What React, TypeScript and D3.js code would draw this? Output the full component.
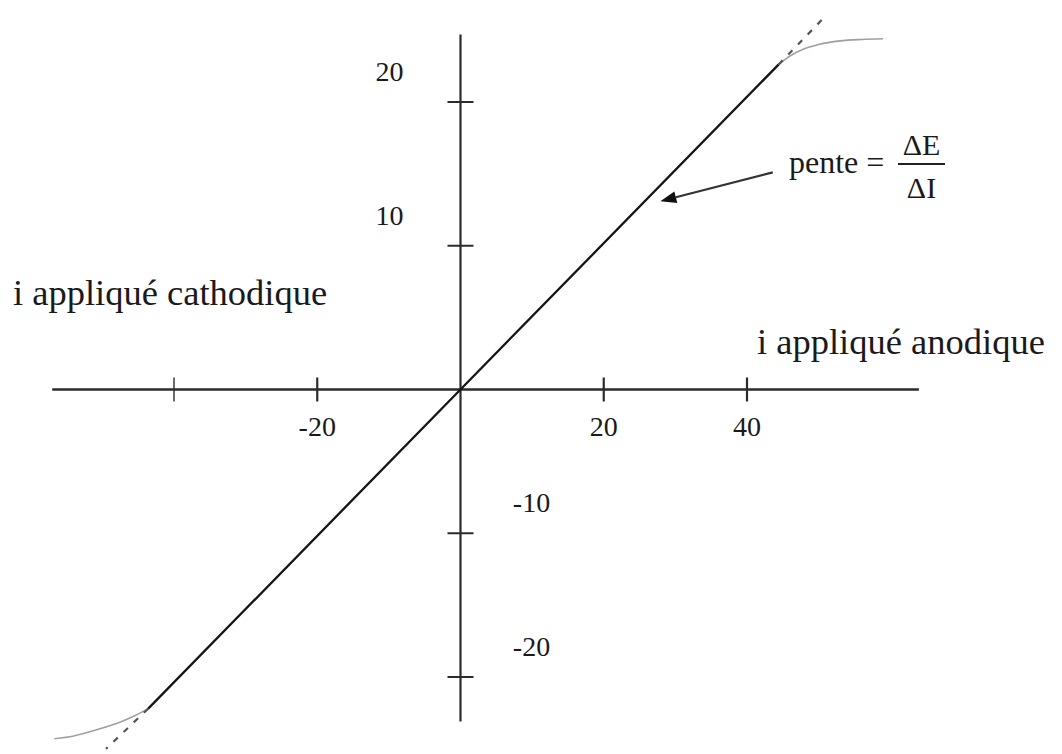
import React from 'react';
import * as d3 from 'd3';

// ---- data ----
const xTicks = [-40, -20, 20, 40];
const xTickLabels = ['', '-20', '20', '40'];
const yTicks = [20, 10, -10, -20];
const yTickLabels = ['20', '10', '-10', '-20'];

const xAxisExtent = [-57, 64];
const yAxisExtent = [-23.1, 24.7];

const linearPart: [number, number][] = [[-43.6, -22.2], [0, 0], [44.4, 22.6]];
const upperBend: [number, number][] = [[44.4, 22.6], [46, 23.2], [48, 23.7], [50, 24.0], [53, 24.25], [56, 24.35], [59, 24.4]];
const lowerBend: [number, number][] = [[-43.6, -22.2], [-45.5, -22.7], [-47.3, -23.1], [-51, -23.7], [-54, -24.1], [-56.7, -24.3]];
const upperDash: [number, number][] = [[44.4, 22.6], [51, 26]];
const lowerDash: [number, number][] = [[-43.6, -22.2], [-49.5, -25]];

const arrowTail: [number, number] = [43.6, 15.1];
const arrowTip: [number, number] = [27.9, 13.1];

const xLabelLeft = 'i appliqué cathodique';
const xLabelRight = 'i appliqué anodique';

export default function App() {
  const W = 1062, H = 754;
  const x = d3.scaleLinear().domain([-40, 40]).range([174, 747]);
  const y = d3.scaleLinear().domain([-20, 20]).range([677, 102]);
  const line = d3.line<[number, number]>().x(d => x(d[0])).y(d => y(d[1]));
  const curve = d3.line<[number, number]>().x(d => x(d[0])).y(d => y(d[1])).curve(d3.curveMonotoneX);
  const font = '"Liberation Serif", "Times New Roman", serif';
  const axisColor = '#2b2b2b';
  const x0 = x(0), y0 = y(0);

  // arrow head
  const tx = x(arrowTip[0]), ty = y(arrowTip[1]);
  const sx = x(arrowTail[0]), sy = y(arrowTail[1]);
  const ang = Math.atan2(ty - sy, tx - sx);
  const hl = 16, hw = 6;
  const bx = tx - hl * Math.cos(ang), by = ty - hl * Math.sin(ang);
  const head = `M${tx},${ty} L${bx + hw * Math.sin(ang)},${by - hw * Math.cos(ang)} L${bx - hw * Math.sin(ang)},${by + hw * Math.cos(ang)} Z`;

  return (
    <svg width={W} height={H} style={{ position: 'absolute', left: 0, top: 0, background: '#fff' }}>
      <rect width={W} height={H} fill="#fff" />
      {/* axes */}
      <line x1={x(xAxisExtent[0])} x2={x(xAxisExtent[1])} y1={y0} y2={y0} stroke={axisColor} strokeWidth={2.4} />
      <line x1={x0} x2={x0} y1={y(yAxisExtent[1])} y2={y(yAxisExtent[0])} stroke={axisColor} strokeWidth={2.2} />
      {xTicks.map((t, i) => (
        <g key={'xt' + t}>
          <line x1={x(t)} x2={x(t)} y1={y0 - 12} y2={y0 + 12} stroke={axisColor} strokeWidth={i === 0 ? 1.4 : 2.2} />
          <text x={x(t)} y={y0 + 46} textAnchor="middle" fontFamily={font} fontSize={28} fill="#1a1a1a">{xTickLabels[i]}</text>
        </g>
      ))}
      {yTicks.map((t, i) => (
        <g key={'yt' + t}>
          <line x1={x0 - 13} x2={x0 + 13} y1={y(t)} y2={y(t)} stroke={axisColor} strokeWidth={2} />
          <text x={t > 0 ? x0 - 71 : x0 + 71} y={y(t) - 21} textAnchor="middle" fontFamily={font} fontSize={28} fill="#1a1a1a">{yTickLabels[i]}</text>
        </g>
      ))}
      {/* curves */}
      <path d={curve(upperBend) || ''} fill="none" stroke="#a0a0a0" strokeWidth={1.6} />
      <path d={curve(lowerBend) || ''} fill="none" stroke="#a0a0a0" strokeWidth={1.6} />
      <path d={line(upperDash) || ''} fill="none" stroke="#555" strokeWidth={2.2} strokeDasharray="6,8" />
      <path d={line(lowerDash) || ''} fill="none" stroke="#555" strokeWidth={2.2} strokeDasharray="6,8" />
      <path d={line(linearPart) || ''} fill="none" stroke="#151515" strokeWidth={2.3} />
      {/* labels */}
      <text x={13} y={305} fontFamily={font} fontSize={36.5} fill="#1a1a1a">{xLabelLeft}</text>
      <text x={757} y={354} fontFamily={font} fontSize={36.5} fill="#1a1a1a">{xLabelRight}</text>
      {/* annotation */}
      <line x1={sx} y1={sy} x2={bx} y2={by} stroke="#333" strokeWidth={2.2} />
      <path d={head} fill="#111" />
      <text x={789} y={173} fontFamily={font} fontSize={32} fill="#1a1a1a">pente =</text>
      <line x1={898} x2={945} y1={164} y2={164} stroke="#222" strokeWidth={2.2} />
      <text x={921.5} y={155} textAnchor="middle" fontFamily={font} fontSize={30} fill="#1a1a1a">ΔE</text>
      <text x={921.5} y={198} textAnchor="middle" fontFamily={font} fontSize={30} fill="#1a1a1a">ΔI</text>
    </svg>
  );
}
